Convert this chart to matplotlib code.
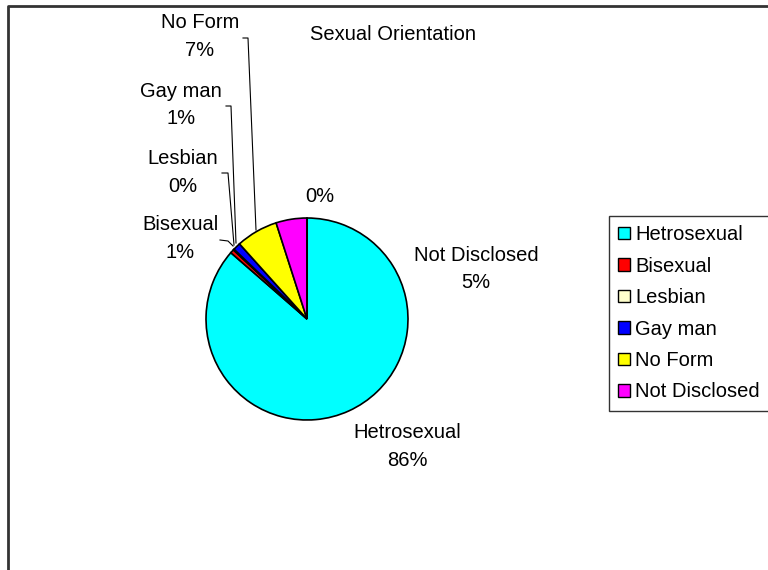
import matplotlib.pyplot as plt
from matplotlib.lines import Line2D
from matplotlib.patches import Patch

# =========================
# DATA
# =========================
CATEGORIES = ['Hetrosexual', 'Bisexual', 'Lesbian', 'Gay man', 'No Form', 'Not Disclosed', '']
VALUES = [86.4, 0.6, 0.15, 1.2, 6.7, 4.95, 0.0]
PCT_LABELS = ['86%', '1%', '0%', '1%', '7%', '5%', '0%']
COLORS = ['#00FFFF', '#FF0000', '#FFFFCC', '#0000FF', '#FFFF00', '#FF00FF', '#FFFFFF']
TITLE = 'Sexual Orientation'

# =========================
# LAYOUT (pixels)
# =========================
W, H = 768, 570
CX, CY, R = 307, 319, 102
FS = 14.5

plt.rcParams['font.family'] = ['Liberation Sans', 'DejaVu Sans']


def fx(x):
    return x / W


def fy(y):
    return 1 - y / H


fig = plt.figure(figsize=(W / 100, H / 100), dpi=100)

# pie
ax = fig.add_axes([fx(CX - R), fy(CY + R), 2 * R / W, 2 * R / H])
ax.pie(VALUES, colors=COLORS, startangle=90, counterclock=False,
       wedgeprops=dict(edgecolor='black', linewidth=1.2))
ax.set_xlim(-1.01, 1.01)
ax.set_ylim(-1.01, 1.01)
ax.axis('off')

# slice labels (name + percent), positions in pixels
label_pos = {
    0: (407, 432),
    1: (180, 225),
    2: (183, 158),
    3: (181, 91),
    4: (200, 23),
    5: (476, 255),
}
for i, (x, y) in label_pos.items():
    fig.text(fx(x), fy(y), CATEGORIES[i], ha='center', va='center', fontsize=FS)
    fig.text(fx(x), fy(y + 28), PCT_LABELS[i], ha='center', va='center', fontsize=FS)
fig.text(fx(320), fy(197), PCT_LABELS[6], ha='center', va='center', fontsize=FS)

# leader lines
leaders = [
    [(243, 38), (248, 38), (256, 230)],
    [(226, 106), (231, 106), (236, 243)],
    [(222, 173), (228, 173), (234, 245)],
    [(220, 240), (228, 241), (233, 246)],
]
for pts in leaders:
    xs = [fx(p[0]) for p in pts]
    ys = [fy(p[1]) for p in pts]
    fig.add_artist(Line2D(xs, ys, color='black', linewidth=0.8))

# title
fig.text(fx(393), fy(34), TITLE, ha='center', va='center', fontsize=FS)

# outer frame (left + top)
fig.add_artist(Line2D([fx(8), fx(8), fx(W)], [fy(H), fy(6), fy(6)],
                      color='#333333', linewidth=2))

# legend
handles = [Patch(facecolor=c, edgecolor='black', linewidth=1) for c in COLORS[:6]]
leg = fig.legend(handles, CATEGORIES[:6], loc='upper left',
                 bbox_to_anchor=(fx(609), fy(216)), fontsize=FS,
                 frameon=True, fancybox=False, edgecolor='black',
                 handlelength=0.6, handleheight=0.6, handletextpad=0.25,
                 labelspacing=0.62, borderpad=0.45, borderaxespad=0)
leg.get_frame().set_linewidth(1)

plt.savefig('out.png', dpi=100)
